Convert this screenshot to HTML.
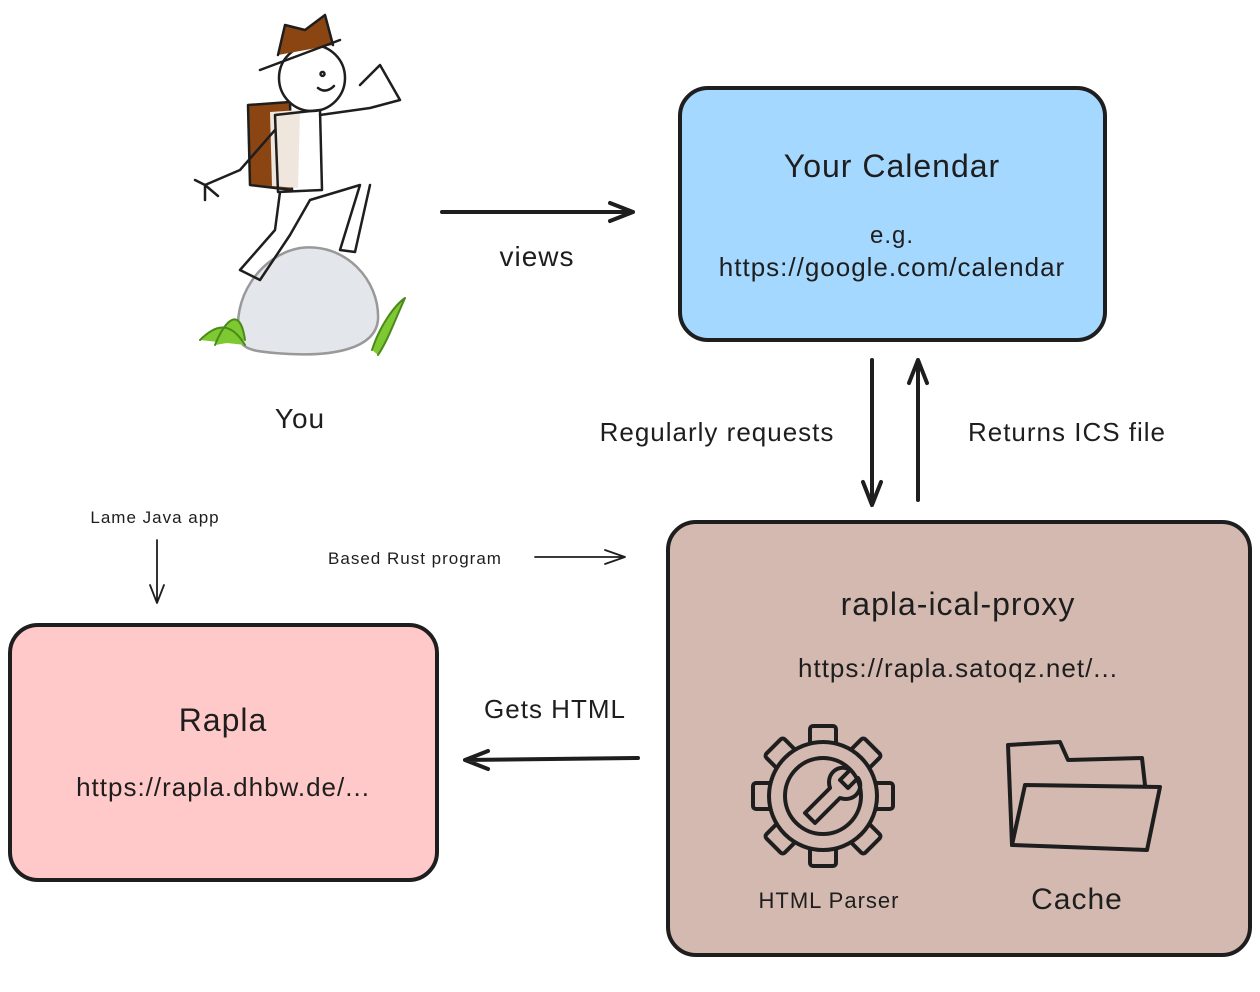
<!DOCTYPE html>
<html><head><meta charset="utf-8"><style>
html,body{margin:0;padding:0;background:#fff}
svg text{font-family:"Liberation Sans",sans-serif;fill:#1e1e1e;letter-spacing:1px}
</style></head><body>
<svg width="1260" height="987" viewBox="0 0 1260 987" xmlns="http://www.w3.org/2000/svg">
<g fill="none" stroke="#1e1e1e" stroke-width="2.5" stroke-linecap="round" stroke-linejoin="round">
<!-- hiker -->
<path d="M240 340 C230 300 260 255 300 248 C345 242 380 280 378 320 C375 350 330 356 290 354 C255 352 244 350 240 340Z" fill="#e3e6ea" stroke="#999"/>
<path d="M200 340 C215 325 230 320 245 345 M215 345 C225 320 240 305 245 340" fill="#7ec832" stroke="#4a8a1a" stroke-width="2"/>
<path d="M372 350 C380 325 395 305 405 298 C395 320 388 340 378 355" fill="#7ec832" stroke="#4a8a1a" stroke-width="2"/>
<path d="M248 105 L290 102 L292 190 L250 185 Z" fill="#8b4513"/>
<path d="M270 112 L300 110 L298 188 L272 186 Z" fill="#efe6dd" stroke="none"/>
<circle cx="312" cy="78" r="33" fill="#fff"/>
<path d="M260 70 L340 40 M278 55 L285 25 L305 30 L325 15 L333 45" fill="#8b4513"/>
<path d="M322 72 A2 2 0 1 0 323 72 M318 88 Q326 94 334 86"/>
<path d="M275 115 L320 110 L322 190 L278 192 Z"/>
<path d="M320 115 L370 108 L400 100 L380 65 L360 85"/>
<path d="M275 130 L240 170 L205 185 M205 185 L195 180 M205 185 L205 200 M205 185 L218 196"/>
<path d="M280 192 L275 230 L240 270 L260 280 L290 235 L310 200 L360 185 L340 250 L355 252 L370 185"/>
<!-- boxes -->
<rect x="680" y="88" width="425" height="252" rx="28" fill="#a5d8ff" stroke-width="4"/>
<rect x="668" y="522" width="582" height="433" rx="28" fill="#d3b9b0" stroke-width="4"/>
<rect x="10" y="625" width="427" height="255" rx="28" fill="#ffc9c9" stroke-width="4"/>
<!-- arrows -->
<g stroke-width="4">
<path d="M442 212 L633 212 M610 203 L633 212 L610 221"/>
<path d="M872 360 L872 505 M863 482 L872 505 L881 482"/>
<path d="M918 500 L918 360 M909 383 L918 360 L927 383"/>
<path d="M638 758 L465 760 M488 751 L465 760 L488 769"/>
</g>
<path d="M157 540 L157 603 M150 585 L157 603 L164 585" stroke-width="1.8"/>
<path d="M535 557 L625 557 M605 550 L625 557 L605 564" stroke-width="1.8"/>
<!-- gear -->
<g stroke-width="4" transform="translate(823 796)">
<g fill="#d3b9b0">
<rect x="-13" y="-70" width="26" height="24" rx="3"/>
<rect x="-13" y="-70" width="26" height="24" rx="3" transform="rotate(45)"/>
<rect x="-13" y="-70" width="26" height="24" rx="3" transform="rotate(90)"/>
<rect x="-13" y="-70" width="26" height="24" rx="3" transform="rotate(135)"/>
<rect x="-13" y="-70" width="26" height="24" rx="3" transform="rotate(180)"/>
<rect x="-13" y="-70" width="26" height="24" rx="3" transform="rotate(225)"/>
<rect x="-13" y="-70" width="26" height="24" rx="3" transform="rotate(270)"/>
<rect x="-13" y="-70" width="26" height="24" rx="3" transform="rotate(315)"/>
</g>
<circle r="54" fill="#d3b9b0"/>
<circle r="38"/>
<path d="M-18 17 L7 -8 C2 -23 17 -33 27 -26 L17 -16 L25 -8 L35 -18 C42 -8 32 7 17 2 L-8 27 Z"/>
</g>
<!-- folder -->
<g stroke-width="4">
<path d="M1012 845 L1008 745 L1060 742 L1068 760 L1142 758 L1145 785"/>
<path d="M1012 845 L1025 785 L1160 787 L1147 850 Z"/>
</g>
</g>
<text x="300" y="428" font-size="28" text-anchor="middle">You</text>
<text x="537" y="266" font-size="28" text-anchor="middle">views</text>
<text x="892" y="177" font-size="32" text-anchor="middle">Your Calendar</text>
<text x="892" y="243" font-size="24" text-anchor="middle">e.g.</text>
<text x="892" y="276" font-size="26" text-anchor="middle">https://google.com/calendar</text>
<text x="717" y="441" font-size="26" text-anchor="middle">Regularly requests</text>
<text x="1067" y="441" font-size="26" text-anchor="middle">Returns ICS file</text>
<text x="958" y="615" font-size="32" text-anchor="middle">rapla-ical-proxy</text>
<text x="958" y="677" font-size="26" text-anchor="middle">https://rapla.satoqz.net/...</text>
<text x="829" y="908" font-size="22" text-anchor="middle">HTML Parser</text>
<text x="1077" y="909" font-size="30" text-anchor="middle">Cache</text>
<text x="223" y="731" font-size="32" text-anchor="middle">Rapla</text>
<text x="223" y="796" font-size="26" text-anchor="middle">https://rapla.dhbw.de/...</text>
<text x="555" y="718" font-size="26" text-anchor="middle">Gets HTML</text>
<text x="155" y="523" font-size="17" text-anchor="middle">Lame Java app</text>
<text x="415" y="564" font-size="17" text-anchor="middle">Based Rust program</text>
</svg>
</body></html>
